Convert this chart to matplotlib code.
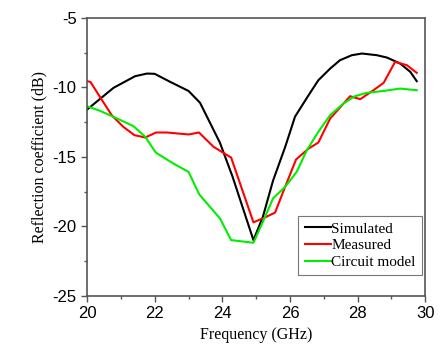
import matplotlib.pyplot as plt

# Simulated
sim_f = [20.0, 20.78, 21.42, 21.77, 22.0, 22.46, 23.0, 23.34, 23.93, 24.3, 24.92,
         25.2, 25.5, 25.86, 26.15, 26.55, 26.84, 27.19, 27.48, 27.83, 28.13,
         28.57, 28.87, 29.26, 29.56, 29.75]
sim_db = [-11.59, -10.03, -9.19, -9.0, -9.02, -9.6, -10.25, -11.1, -13.98, -16.4, -20.98,
          -19.3, -16.7, -14.27, -12.1, -10.56, -9.48, -8.64, -8.04, -7.68, -7.56,
          -7.68, -7.85, -8.28, -8.88, -9.55]

# Measured
meas_f = [20.0, 20.1, 20.38, 20.73, 21.07, 21.4, 21.72, 22.04, 22.36, 23.0, 23.31,
          23.74, 24.26, 24.92, 25.26, 25.56, 25.8, 26.18, 26.55, 26.84, 27.19,
          27.78, 28.08, 28.47, 28.77, 29.11, 29.46, 29.75]
meas_db = [-9.55, -9.6, -10.68, -12.0, -12.83, -13.43, -13.6, -13.24, -13.24, -13.38, -13.24,
           -14.27, -15.04, -19.7, -19.35, -19.0, -17.5, -15.18, -14.4, -13.96, -12.23,
           -10.63, -10.84, -10.2, -9.67, -8.16, -8.4, -8.95]

# Circuit model
circ_f = [20.0, 20.38, 20.78, 21.37, 21.72, 22.03, 22.55, 23.0, 23.32, 23.93, 24.26,
          24.92, 25.2, 25.5, 25.86, 26.2, 26.5, 26.84, 27.19, 27.58, 27.92,
          28.27, 28.77, 29.26, 29.75]
circ_db = [-11.35, -11.68, -12.11, -12.78, -13.55, -14.68, -15.47, -16.07, -17.7, -19.42, -20.98,
           -21.17, -19.66, -17.98, -17.14, -16.07, -14.51, -13.19, -11.99, -11.16, -10.63,
           -10.39, -10.25, -10.08, -10.2]

x_ticks = [20, 22, 24, 26, 28, 30]
y_ticks = [-25, -20, -15, -10, -5]

plt.rcParams['font.family'] = ['Liberation Sans', 'DejaVu Sans']
plt.rcParams['axes.unicode_minus'] = False
serif = ['Liberation Serif', 'DejaVu Serif']

fig = plt.figure(figsize=(4.42, 3.45), dpi=100)
ax = fig.add_axes([0.197, 0.142, 0.765, 0.806])

ax.plot(sim_f, sim_db, color='black', lw=1.5, label='Simulated')
ax.plot(meas_f, meas_db, color='#ff0000', lw=1.5, label='Measured')
ax.plot(circ_f, circ_db, color='#00ee00', lw=1.5, label='Circuit model')

ax.set_xlim(20, 30)
ax.set_ylim(-25, -5)
ax.set_xticks(x_ticks)
ax.set_yticks(y_ticks)
ax.set_xticks([21, 23, 25, 27, 29], minor=True)
ax.set_yticks([-22.5, -17.5, -12.5, -7.5], minor=True)
ax.tick_params(which='major', direction='out', length=4, width=1, labelsize=12, color='#555555')
ax.tick_params(which='minor', direction='out', length=2, width=1, color='#555555')
for s in ax.spines.values():
    s.set_color('#555555')
    s.set_linewidth(1.2)

ax.set_xlabel('Frequency (GHz)', family=serif, fontsize=11.5, labelpad=4)
ax.set_ylabel('Reflection coefficient (dB)', family=serif, fontsize=11.5, labelpad=4)

leg = ax.legend(loc='lower right', bbox_to_anchor=(0.99, 0.075), prop={'family': serif, 'size': 11},
                frameon=True, fancybox=False, edgecolor='#555555', handlelength=1.7,
                handletextpad=0.05, labelspacing=0.2, borderpad=0.4, borderaxespad=0)
leg.get_frame().set_linewidth(0.8)

fig.savefig('out.png', dpi=100)
